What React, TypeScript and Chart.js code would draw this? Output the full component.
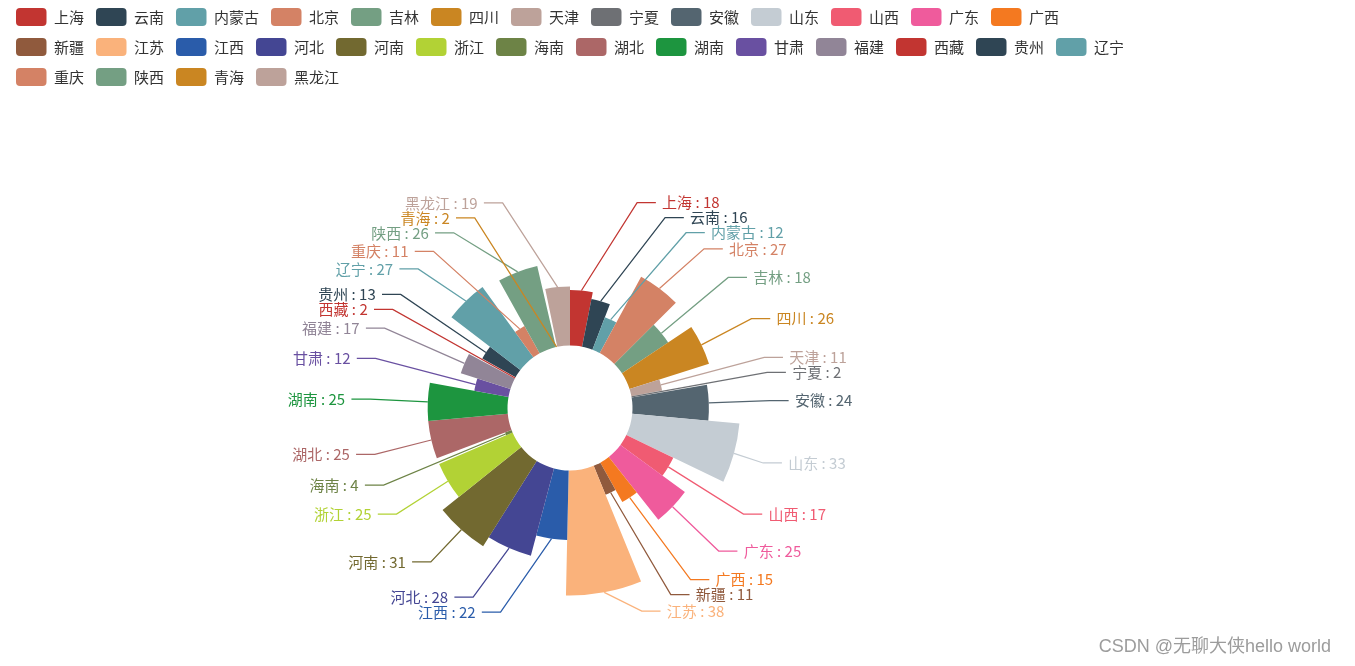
import React, { useEffect, useRef } from "react";
import { Chart, registerables } from "chart.js";

Chart.register(...registerables);

// ---------- data ----------
const provinces = [
  "上海", "云南", "内蒙古", "北京", "吉林", "四川", "天津", "宁夏", "安徽", "山东",
  "山西", "广东", "广西", "新疆", "江苏", "江西", "河北", "河南", "浙江", "海南",
  "湖北", "湖南", "甘肃", "福建", "西藏", "贵州", "辽宁", "重庆", "陕西", "青海", "黑龙江",
];
const values = [
  18, 16, 12, 27, 18, 26, 11, 2, 24, 33,
  17, 25, 15, 11, 38, 22, 28, 31, 25, 4,
  25, 25, 12, 17, 2, 13, 27, 11, 26, 2, 19,
];
const palette = [
  "#c23531", "#2f4554", "#61a0a8", "#d48265", "#749f83", "#ca8622", "#bda29a", "#6e7074",
  "#546570", "#c4ccd3", "#f05b72", "#ef5b9c", "#f47920", "#905a3d", "#fab27b", "#2a5caa",
  "#444693", "#726930", "#b2d235", "#6d8346", "#ac6767", "#1d953f", "#6950a1", "#918597",
];
const colors = provinces.map((_, i) => palette[i % palette.length]);
const watermark = "CSDN @无聊大侠hello world";

// ---------- layout / style ----------
const W = 1355;
const H = 666;
const CENTER_X = 570;
const CENTER_Y = 408;
const OUTER_R = 187.5;
const INNER_R = 62.5;
const LEN1 = 18.75;
const LEN2 = 18.75;
const DIST = 6.25;
const LABEL_H = 15;
const FONT = '"Microsoft YaHei", "Noto Sans CJK SC", sans-serif';

type Item = {
  x: number;
  y: number;
  height: number;
  len: number;
  len2: number;
  linePoints: number[][];
  text: string;
  color: string;
};

function adjustSingleSide(list: Item[], cx: number, cy: number, r: number, dir: number, viewTop: number, viewHeight: number) {
  list.sort((a, b) => a.y - b.y);
  const shiftUp = (end: number, delta: number) => {
    for (let j = end; j >= 0; j--) {
      if (list[j].y - delta < viewTop) break;
      list[j].y -= delta;
      if (j > 0 && list[j].y > list[j - 1].y + list[j - 1].height) break;
    }
  };
  const shiftDown = (start: number, end: number, delta: number) => {
    for (let j = start; j < end; j++) {
      if (list[j].y + delta > viewTop + viewHeight) break;
      list[j].y += delta;
      if (j > start && j + 1 < end && list[j + 1].y > list[j].y + list[j].height) {
        shiftUp(j, delta / 2);
        return;
      }
    }
    shiftUp(end - 1, delta / 2);
  };
  const changeX = (items: Item[], isDown: boolean) => {
    let last = isDown ? Number.MAX_VALUE : 0;
    for (const it of items) {
      const deltaY = Math.abs(it.y - cy);
      const R = r + it.len + it.len2;
      let deltaX = deltaY < r + it.len ? Math.sqrt(R * R - deltaY * deltaY) : Math.abs(it.x - cx);
      if (isDown && deltaX >= last) deltaX = last - 10;
      if (!isDown && deltaX <= last) deltaX = last + 10;
      it.x = cx + deltaX * dir;
      last = deltaX;
    }
  };
  let lastY = 0;
  for (let i = 0; i < list.length; i++) {
    const delta = list[i].y - lastY;
    if (delta < 0) shiftDown(i, list.length, -delta);
    lastY = list[i].y + list[i].height;
  }
  if (viewHeight - lastY < 0) shiftUp(list.length - 1, lastY - viewHeight);
  const up = list.filter((it) => it.y < cy);
  const down = list.filter((it) => it.y >= cy);
  changeX(up, false);
  changeX(down, true);
}

const areaPlugin = {
  id: "roseArea",
  afterLayout(chart: any) {
    chart.chartArea = {
      left: CENTER_X - OUTER_R,
      top: CENTER_Y - OUTER_R,
      right: CENTER_X + OUTER_R,
      bottom: CENTER_Y + OUTER_R,
      width: OUTER_R * 2,
      height: OUTER_R * 2,
    };
  },
  afterDatasetUpdate(chart: any, args: any) {
    const meta = args.meta;
    const ctrl = meta.controller;
    const inner = ctrl.innerRadius;
    const outer = ctrl.outerRadius;
    const vals = chart.data.datasets[0].data as number[];
    const mn = Math.min(...vals);
    const mx = Math.max(...vals);
    meta.data.forEach((arc: any, i: number) => {
      arc.outerRadius = inner + ((outer - inner) * (vals[i] - mn)) / (mx - mn);
    });
  },
};

const labelPlugin = {
  id: "roseLabels",
  afterDatasetsDraw(chart: any) {
    const meta = chart.getDatasetMeta(0);
    const r = meta.controller.outerRadius;
    const ctx = chart.ctx as CanvasRenderingContext2D;
    const items: Item[] = [];
    let cx = 0;
    let cy = 0;
    meta.data.forEach((arc: any, i: number) => {
      cx = arc.x;
      cy = arc.y;
      const mid = (arc.startAngle + arc.endAngle) / 2;
      const nx = Math.cos(mid);
      const ny = Math.sin(mid);
      const ar = arc.outerRadius;
      const x1 = cx + ar * nx;
      const y1 = cy + ar * ny;
      const x2 = x1 + nx * (LEN1 + r - ar);
      const y2 = y1 + ny * (LEN1 + r - ar);
      const dir = nx < 0 ? -1 : 1;
      const x3 = x2 + dir * LEN2;
      items.push({
        x: x3 + dir * DIST,
        y: y2,
        height: LABEL_H,
        len: LEN1,
        len2: LEN2,
        linePoints: [[x1, y1], [x2, y2], [x3, y2]],
        text: `${provinces[i]} : ${values[i]}`,
        color: colors[i],
      });
    });
    const left = items.filter((it) => it.x < cx);
    const right = items.filter((it) => it.x >= cx);
    adjustSingleSide(right, cx, cy, r, 1, 0, chart.height);
    adjustSingleSide(left, cx, cy, r, -1, 0, chart.height);

    ctx.save();
    ctx.font = `15px ${FONT}`;
    ctx.textBaseline = "middle";
    ctx.lineWidth = 1.25;
    items.forEach((it) => {
      const lp = it.linePoints;
      const d = lp[1][0] - lp[2][0];
      const isLeft = it.x < cx;
      lp[2][0] = isLeft ? it.x + DIST : it.x - DIST;
      lp[1][0] = lp[2][0] + d;
      lp[1][1] = lp[2][1] = it.y;
      ctx.strokeStyle = it.color;
      ctx.beginPath();
      ctx.moveTo(lp[0][0], lp[0][1]);
      ctx.lineTo(lp[1][0], lp[1][1]);
      ctx.lineTo(lp[2][0], lp[2][1]);
      ctx.stroke();
      ctx.fillStyle = it.color;
      ctx.textAlign = isLeft ? "right" : "left";
      ctx.fillText(it.text, it.x, it.y);
    });
    ctx.restore();
  },
  afterDraw(chart: any) {
    const ctx = chart.ctx as CanvasRenderingContext2D;
    ctx.save();
    ctx.font = '18px "Liberation Sans", Arial, "Noto Sans CJK SC", sans-serif';
    ctx.fillStyle = "#9c9c9c";
    ctx.textAlign = "right";
    ctx.textBaseline = "middle";
    ctx.fillText(watermark, W - 24, H - 19);
    ctx.restore();
  },
};

export default function App() {
  const ref = useRef<HTMLCanvasElement | null>(null);
  useEffect(() => {
    if (!ref.current) return;
    const chart = new Chart(ref.current, {
      type: "doughnut",
      data: {
        labels: provinces,
        datasets: [
          {
            data: values,
            backgroundColor: colors,
            borderWidth: 0,
            hoverOffset: 0,
            clip: false as any,
          },
        ],
      },
      options: {
        responsive: false,
        animation: false,
        events: [],
        cutout: INNER_R,
        layout: { padding: { left: 4, right: 211, top: -4, bottom: 0 } },
        plugins: {
          tooltip: { enabled: false },
          legend: {
            display: true,
            position: "top",
            align: "start",
            labels: {
              boxWidth: 30.5,
              boxHeight: 18,
              padding: 12,
              color: "#333",
              font: { size: 15, family: FONT },
              useBorderRadius: true,
              borderRadius: 4,
              generateLabels: () =>
                provinces.map((p, i) => ({
                  text: p,
                  fillStyle: colors[i],
                  strokeStyle: colors[i],
                  lineWidth: 0,
                  hidden: false,
                  index: i,
                  borderRadius: 4,
                  fontColor: "#333",
                })),
            },
          } as any,
        },
      },
      plugins: [areaPlugin, labelPlugin],
    });
    return () => chart.destroy();
  }, []);
  return (
    <div style={{ position: "fixed", left: 0, top: 0, width: W, height: H, background: "#fff" }}>
      <canvas ref={ref} width={W} height={H} style={{ display: "block" }} />
    </div>
  );
}
